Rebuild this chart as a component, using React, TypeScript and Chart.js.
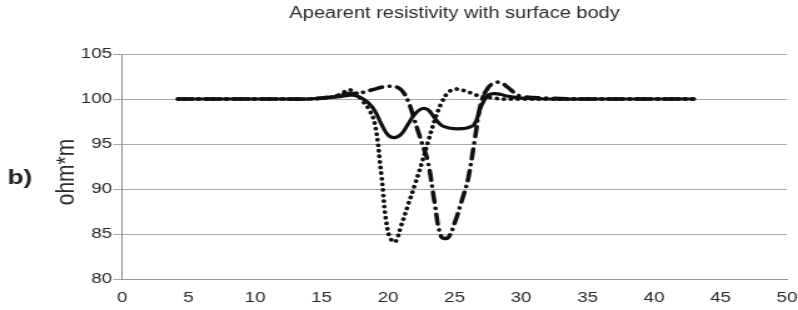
import React, { useEffect, useRef } from "react";
import { Chart, registerables } from "chart.js";

Chart.register(...registerables);

const titleText = "Apearent resistivity with surface body";
const yAxisTitle = "ohm*m";
const panelLabel = "b)";

const xValues = [4.2, 6, 8, 10, 12, 14, 15, 16, 16.5, 17, 17.5, 18, 18.5, 19, 19.5, 20, 20.5, 21, 21.5, 22, 22.5, 23, 23.5, 24, 24.5, 25, 25.5, 26, 26.5, 27, 27.5, 28, 28.5, 29, 29.5, 30, 32, 35, 38, 40, 43];

const solidSeries = [100, 100, 100, 100, 100, 100, 100.1, 100.2, 100.3, 100.4, 100.4, 100.1, 99.6, 98.7, 97.2, 96.0, 95.7, 96.1, 97.2, 98.3, 98.9, 98.8, 97.9, 97.1, 96.8, 96.7, 96.7, 96.8, 97.2, 99.2, 100.4, 100.6, 100.5, 100.3, 100.2, 100.1, 100, 100, 100, 100, 100];

const dottedSeries = [100, 100, 100, 100, 100, 100, 100.1, 100.3, 100.6, 101.0, 100.8, 99.9, 99.0, 97.3, 91.5, 85.2, 84.1, 86.0, 88.2, 90.4, 92.7, 95.2, 97.6, 99.5, 100.7, 101.1, 101.0, 100.8, 100.5, 100.3, 100.2, 100.1, 100, 100, 100, 100, 100, 100, 100, 100, 100];

const dashDotSeries = [100, 100, 100, 100, 100, 100, 100.1, 100.3, 100.5, 100.6, 100.6, 100.7, 100.9, 101.1, 101.3, 101.4, 101.4, 101.0, 99.8, 97.6, 95.3, 93.0, 88.5, 84.7, 84.6, 86.2, 88.5, 91.0, 95.3, 99.6, 101.2, 101.8, 101.8, 101.3, 100.7, 100.3, 100.1, 100, 100, 100, 100];

const xTickMin = 0;
const xTickMax = 50;
const xTickStep = 5;
const yTickMin = 80;
const yTickMax = 105;
const yTickStep = 5;

const FONT = '"Liberation Sans", Arial, sans-serif';
const INTERNAL_W = 638;
const INTERNAL_H = 310;

function toPoints(values: number[]) {
  return values.map((y, i) => ({ x: xValues[i], y }));
}

export default function App() {
  const canvasRef = useRef<HTMLCanvasElement | null>(null);

  useEffect(() => {
    if (!canvasRef.current) return;
    const labelPlugin = {
      id: "panelLabel",
      afterDraw(chart: any) {
        const ctx = chart.ctx;
        ctx.save();
        ctx.font = `bold 21px ${FONT}`;
        ctx.fillStyle = "#222";
        ctx.textAlign = "left";
        ctx.textBaseline = "middle";
        ctx.fillText(panelLabel, 6, 178);
        ctx.translate(53, 172);
        ctx.rotate(-Math.PI / 2);
        ctx.font = `21px ${FONT}`;
        ctx.fillStyle = "#2a2a2a";
        ctx.textAlign = "center";
        ctx.fillText(yAxisTitle, 0, 0);
        ctx.restore();
      },
    };
    const chart = new Chart(canvasRef.current, {
      type: "line",
      data: {
        datasets: [
          {
            label: "solid",
            data: toPoints(solidSeries),
            borderColor: "#111",
            borderWidth: 3.2,
            pointRadius: 0,
            tension: 0.4,
            fill: false,
          },
          {
            label: "dotted",
            data: toPoints(dottedSeries),
            borderColor: "#111",
            borderWidth: 3.8,
            borderDash: [0.1, 5.5],
            borderCapStyle: "round",
            pointRadius: 0,
            tension: 0.4,
            fill: false,
          },
          {
            label: "dashdot",
            data: toPoints(dashDotSeries),
            borderColor: "#111",
            borderWidth: 3.6,
            borderDash: [10, 6, 0.1, 6],
            borderCapStyle: "round",
            pointRadius: 0,
            tension: 0.4,
            fill: false,
          },
        ],
      },
      options: {
        responsive: false,
        animation: false,
        devicePixelRatio: 1,
        layout: { padding: { left: 0, right: 0, top: 0, bottom: 0 } },
        plugins: {
          legend: { display: false },
          tooltip: { enabled: false },
          title: {
            display: true,
            text: titleText,
            fullSize: false,
            color: "#2a2a2a",
            font: { family: FONT, size: 16, weight: "normal" },
            padding: { top: 4, bottom: 30.8 },
          },
        },
        scales: {
          x: {
            type: "linear",
            min: xTickMin,
            max: xTickMax,
            ticks: {
              stepSize: xTickStep,
              color: "#2a2a2a",
              font: { family: FONT, size: 15 },
              padding: 9.5,
              maxRotation: 0,
            },
            grid: { display: false, drawTicks: false },
            border: { display: true, color: "#999" },
            afterFit(scale: any) {
              scale.height = 31;
              scale.paddingRight = 8.8;
              scale.paddingLeft = 0;
            },
          },
          y: {
            min: yTickMin,
            max: yTickMax,
            ticks: {
              stepSize: yTickStep,
              color: "#2a2a2a",
              font: { family: FONT, size: 15 },
              padding: 1,
            },
            grid: { color: "#a8a8a8", tickLength: 7, drawTicks: true },
            border: { display: true, color: "#8c8c8c" },
            afterFit(scale: any) {
              scale.width = 97.6;
            },
          },
        },
      },
      plugins: [labelPlugin],
    } as any);
    return () => chart.destroy();
  }, []);

  return (
    <div style={{ position: "absolute", left: 0, top: 0, width: 798, height: 310, background: "#fff" }}>
      <canvas
        ref={canvasRef}
        width={INTERNAL_W}
        height={INTERNAL_H}
        style={{ width: "798px", height: "310px", display: "block" }}
      />
    </div>
  );
}
